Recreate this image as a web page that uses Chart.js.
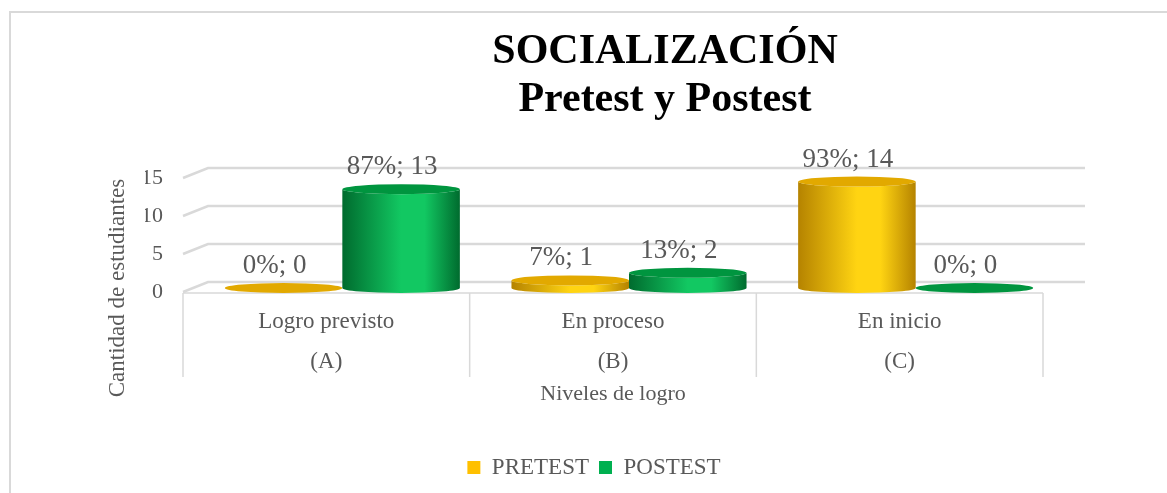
<!DOCTYPE html>
<html>
<head>
<meta charset="utf-8">
<script src="https://cdn.jsdelivr.net/npm/chart.js@4/dist/chart.umd.min.js"></script>
<style>
  html, body { margin: 0; padding: 0; background: #fff; }
  #wrap { position: relative; width: 1167px; height: 493px; overflow: hidden; }
  #frame { position: absolute; left: 9px; top: 11px; width: 1200px; height: 520px; border: 2px solid #d9d9d9; box-sizing: border-box; }
  canvas { position: absolute; left: 0; top: 0; }
</style>
</head>
<body>
<div id="wrap">
  <div id="frame"></div>
  <canvas id="grafico" width="1167" height="493"></canvas>
</div>
<script>
// datos del grafico
const categories = [['Logro previsto', '(A)'], ['En proceso', '(B)'], ['En inicio', '(C)']];
const pretest = [0, 1, 14];
const postest = [13, 2, 0];
const pretestPct = ['0%', '7%', '93%'];
const postestPct = ['87%', '13%', '0%'];
const yTicks = [0, 5, 10, 15];

const serif = '"Liberation Serif", "Times New Roman", serif';
const gris = '#595959';
const depthX = 16, depthY = -4; // desplazamiento del efecto 3D

// colores de los cilindros: oscuro, claro, tapa
const cil = [
  { dark: '#b58300', light: '#ffd412', top: '#e2a900' },
  { dark: '#006b2e', light: '#12c862', top: '#00953f' }
];

function cilindro(ctx, x0, x1, yTop, yBase, c) {
  const cx = (x0 + x1) / 2, rx = (x1 - x0) / 2, ry = 5;
  const g = ctx.createLinearGradient(x0, 0, x1, 0);
  g.addColorStop(0, c.dark);
  g.addColorStop(0.5, c.light);
  g.addColorStop(0.7, c.light);
  g.addColorStop(1, c.dark);
  ctx.fillStyle = g;
  ctx.beginPath();
  ctx.moveTo(x0, yTop);
  ctx.lineTo(x0, yBase);
  ctx.ellipse(cx, yBase, rx, ry, 0, Math.PI, 0, true);
  ctx.lineTo(x1, yTop);
  ctx.ellipse(cx, yTop, rx, ry, 0, 0, Math.PI, false);
  ctx.closePath();
  ctx.fill();
  // tapa
  ctx.fillStyle = c.top;
  ctx.beginPath();
  ctx.ellipse(cx, yTop, rx, ry, 0, 0, Math.PI * 2);
  ctx.fill();
}

const plugin3D = {
  id: 'plugin3D',
  beforeDatasetsDraw(chart) {
    // rejilla con perspectiva
    const { ctx, chartArea } = chart;
    const y = chart.scales.y;
    const x = chart.scales.x;
    ctx.save();
    ctx.strokeStyle = '#d9d9d9';
    ctx.lineWidth = 2.5;
    yTicks.forEach(v => {
      const py = y.getPixelForValue(v);
      ctx.beginPath();
      ctx.moveTo(chartArea.left, py);
      ctx.lineTo(chartArea.left + 25, py - 10);
      ctx.lineTo(chartArea.right + 42, py - 10);
      ctx.stroke();
    });
    // linea del eje y separadores de categorias
    ctx.lineWidth = 1.5;
    ctx.beginPath();
    ctx.moveTo(x.left, chartArea.bottom + 1);
    ctx.lineTo(x.right, chartArea.bottom + 1);
    ctx.stroke();
    const n = categories.length;
    for (let i = 0; i <= n; i++) {
      let px;
      if (i === 0) px = x.left;
      else if (i === n) px = x.right;
      else px = (x.getPixelForValue(i - 1) + x.getPixelForValue(i)) / 2;
      ctx.beginPath();
      ctx.moveTo(px, chartArea.bottom + 1);
      ctx.lineTo(px, chartArea.bottom + 85);
      ctx.stroke();
    }
    ctx.restore();
  },
  beforeDatasetDraw() {
    return false; // los cilindros se dibujan aparte
  },
  afterDatasetsDraw(chart) {
    const { ctx } = chart;
    ctx.save();
    chart.data.datasets.forEach((ds, i) => {
      const meta = chart.getDatasetMeta(i);
      meta.data.forEach(bar => {
        const p = bar.getProps(['x', 'y', 'base', 'width'], true);
        cilindro(ctx, p.x - p.width / 2 + depthX, p.x + p.width / 2 + depthX, p.y + depthY, p.base + depthY, cil[i]);
      });
    });
    // etiquetas de datos
    ctx.fillStyle = gris;
    ctx.font = '27px ' + serif;
    ctx.textAlign = 'center';
    ctx.textBaseline = 'middle';
    const pcts = [pretestPct, postestPct];
    chart.data.datasets.forEach((ds, i) => {
      const meta = chart.getDatasetMeta(i);
      meta.data.forEach((bar, j) => {
        const p = bar.getProps(['x', 'y'], true);
        ctx.fillText(pcts[i][j] + '; ' + ds.data[j], p.x + 7, p.y + depthY - 22);
      });
    });
    ctx.restore();
  },
  afterDraw(chart) {
    const { ctx } = chart;
    ctx.save();
    // titulo
    ctx.fillStyle = '#000';
    ctx.font = 'bold 42px ' + serif;
    ctx.textAlign = 'center';
    ctx.textBaseline = 'middle';
    ctx.fillText('SOCIALIZACIÓN', 665, 52);
    ctx.fillText('Pretest y Postest', 665, 100);
    // titulo del eje y
    ctx.fillStyle = gris;
    ctx.font = '23px ' + serif;
    ctx.translate(118, 288);
    ctx.rotate(-Math.PI / 2);
    ctx.fillText('Cantidad de estudiantes', 0, 0);
    ctx.restore();
  }
};

new Chart(document.getElementById('grafico').getContext('2d'), {
  type: 'bar',
  data: {
    labels: categories,
    datasets: [
      { label: 'PRETEST', data: pretest, backgroundColor: '#FFC000' },
      { label: 'POSTEST', data: postest, backgroundColor: '#00B050' }
    ]
  },
  options: {
    responsive: false,
    animation: false,
    layout: { padding: { top: 178, left: 145, right: 124, bottom: 4 } },
    datasets: { bar: { categoryPercentage: 0.82, barPercentage: 1 } },
    scales: {
      x: {
        grid: { display: false },
        border: { display: false },
        ticks: { color: gris, padding: 1, font: { family: serif, size: 23, lineHeight: 1.78 } },
        title: { display: true, text: 'Niveles de logro', color: gris, font: { family: serif, size: 22 }, padding: { top: 4, bottom: 39 } },
        afterFit(s) { s.height = 154; }
      },
      y: {
        min: 0,
        max: 15,
        grid: { display: false },
        border: { display: false },
        ticks: { color: gris, padding: 12, font: { family: serif, size: 22 } },
        afterBuildTicks(s) { s.ticks = yTicks.map(v => ({ value: v })); },
        afterFit(s) { s.width = 38; }
      }
    },
    plugins: {
      legend: {
        position: 'bottom',
        labels: { boxWidth: 13, boxHeight: 13, padding: 10, color: gris, font: { family: serif, size: 23 } }
      },
      tooltip: { enabled: false }
    }
  },
  plugins: [plugin3D]
});
</script>
</body>
</html>
